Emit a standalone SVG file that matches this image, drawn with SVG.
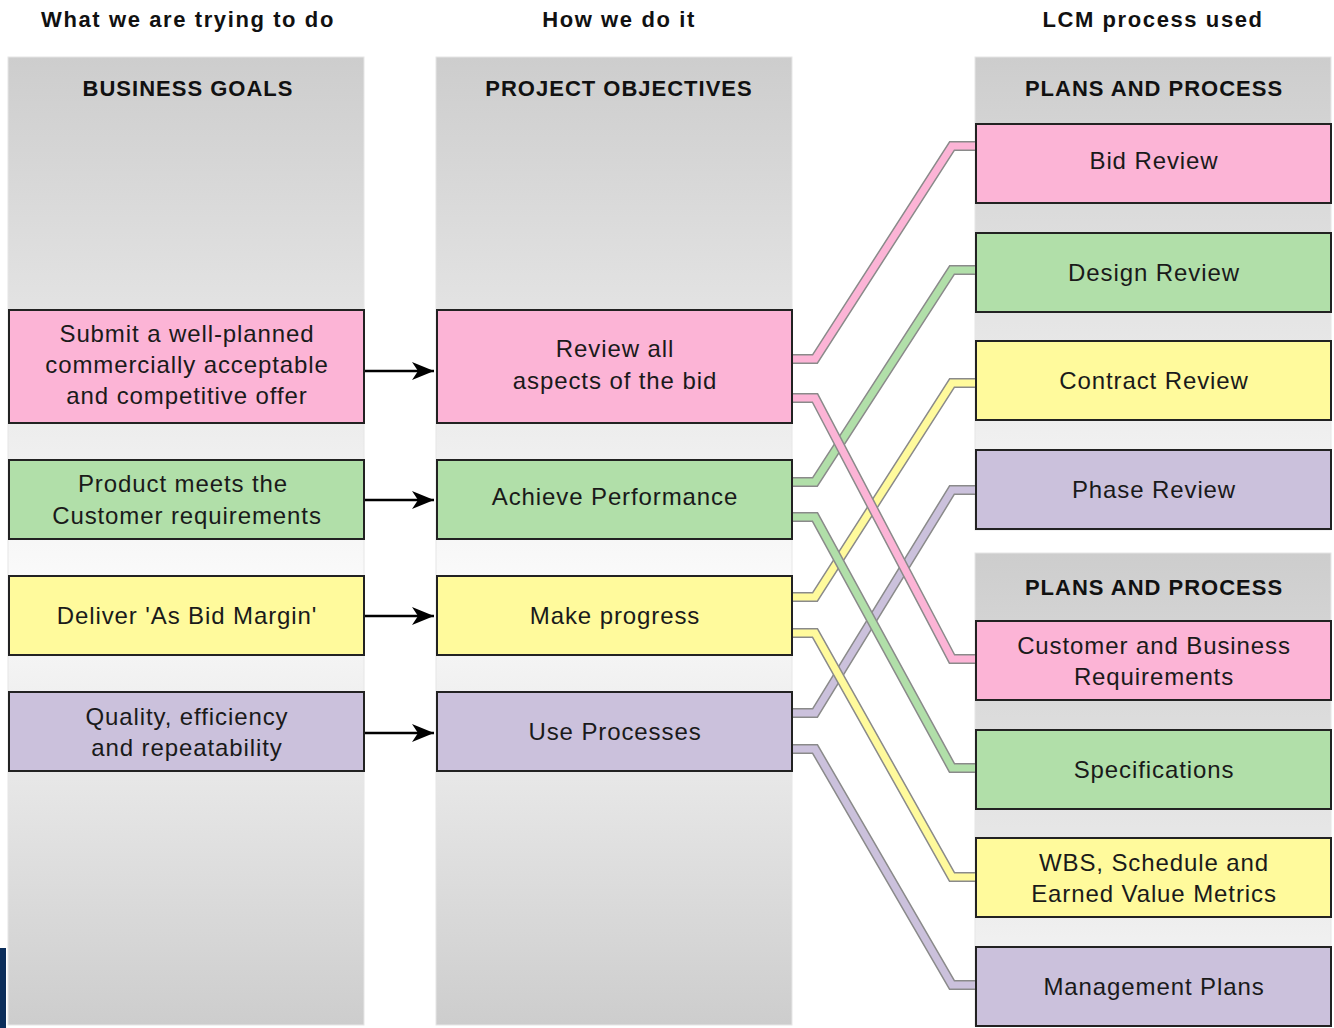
<svg xmlns="http://www.w3.org/2000/svg" width="1334" height="1028" viewBox="0 0 1334 1028">
  <defs>
    <linearGradient id="colFade" x1="0" y1="0" x2="0" y2="1">
      <stop offset="0" stop-color="#cdcdcd"/>
      <stop offset="0.55" stop-color="#fbfbfb"/>
      <stop offset="1" stop-color="#cdcdcd"/>
    </linearGradient>
    <linearGradient id="sideFade" x1="0" y1="0" x2="0" y2="1">
      <stop offset="0" stop-color="#cdcdcd"/>
      <stop offset="1" stop-color="#f8f8f8"/>
    </linearGradient>
    <marker id="arrowHead" viewBox="0 0 22 18" refX="22" refY="9" markerWidth="22" markerHeight="18" markerUnits="userSpaceOnUse" orient="auto">
      <path d="M0,0 L22,9 L0,18 L6,9 Z" fill="#000"/>
    </marker>
    <style>
      .col { stroke: #e6e6e6; stroke-width: 1; }
      .box { stroke: #222; stroke-width: 2; }
      .pink { fill: #fcb4d6; }
      .green { fill: #b1dfa9; }
      .yellow { fill: #fffa9c; }
      .purple { fill: #cbc1dc; }
      .top { font-family: "Liberation Sans", Arial, sans-serif; font-weight: bold; font-size: 22px; letter-spacing: 1.6px; fill: #111; text-anchor: middle; }
      .head { font-family: "Liberation Sans", Arial, sans-serif; font-weight: bold; font-size: 22px; letter-spacing: 1px; fill: #111; text-anchor: middle; }
      .lbl { font-family: "Liberation Sans", Arial, sans-serif; font-size: 24px; letter-spacing: 0.9px; fill: #1a1a1a; text-anchor: middle; }
      .edge .rim { stroke: #8a8a8a; stroke-width: 10; fill: none; stroke-linejoin: miter; }
      .edge .core { stroke-width: 7; fill: none; stroke-linejoin: miter; }
      .arrow { stroke: #000; stroke-width: 2.5; fill: none; marker-end: url(#arrowHead); }
    </style>
  </defs>

  <rect width="1334" height="1028" fill="#fff"/>

  <!-- column backgrounds -->
  <rect class="col" x="8" y="57" width="356" height="968" fill="url(#colFade)"/>
  <rect class="col" x="436" y="57" width="356" height="968" fill="url(#colFade)"/>
  <rect class="col" x="975" y="57" width="356" height="473" fill="url(#sideFade)"/>
  <rect class="col" x="975" y="553" width="356" height="473" fill="url(#sideFade)"/>

  <!-- small edge strip at lower left -->
  <rect x="0" y="948" width="6" height="80" fill="#0b2d5a"/>

  <!-- column captions -->
  <text class="top" x="188" y="27">What we are trying to do</text>
  <text class="top" x="619" y="27">How we do it</text>
  <text class="top" x="1153" y="27">LCM process used</text>
  <text class="head" x="188" y="96">BUSINESS GOALS</text>
  <text class="head" x="619" y="96">PROJECT OBJECTIVES</text>
  <text class="head" x="1154" y="96">PLANS AND PROCESS</text>
  <text class="head" x="1154" y="595">PLANS AND PROCESS</text>

  <!-- connectors -->
  <g id="connectors">
    <g class="edge">
      <path class="rim" d="M792,713 H815 L952,490 H976"/>
      <path class="core" stroke="#cbc1dc" d="M792,713 H815 L952,490 H976"/>
    </g>
    <g class="edge">
      <path class="rim" d="M792,749 H815 L952,985 H976"/>
      <path class="core" stroke="#cbc1dc" d="M792,749 H815 L952,985 H976"/>
    </g>
    <g class="edge">
      <path class="rim" d="M792,597 H815 L952,383 H976"/>
      <path class="core" stroke="#fffa9c" d="M792,597 H815 L952,383 H976"/>
    </g>
    <g class="edge">
      <path class="rim" d="M792,633 H815 L952,877 H976"/>
      <path class="core" stroke="#fffa9c" d="M792,633 H815 L952,877 H976"/>
    </g>
    <g class="edge">
      <path class="rim" d="M792,482 H815 L952,270 H976"/>
      <path class="core" stroke="#b1dfa9" d="M792,482 H815 L952,270 H976"/>
    </g>
    <g class="edge">
      <path class="rim" d="M792,517 H815 L952,768 H976"/>
      <path class="core" stroke="#b1dfa9" d="M792,517 H815 L952,768 H976"/>
    </g>
    <g class="edge">
      <path class="rim" d="M792,359 H815 L952,146 H976"/>
      <path class="core" stroke="#fcb4d6" d="M792,359 H815 L952,146 H976"/>
    </g>
    <g class="edge">
      <path class="rim" d="M792,398 H815 L952,659 H976"/>
      <path class="core" stroke="#fcb4d6" d="M792,398 H815 L952,659 H976"/>
    </g>

    <path class="arrow" d="M364,371 H434"/>
    <path class="arrow" d="M364,500 H434"/>
    <path class="arrow" d="M364,616 H434"/>
    <path class="arrow" d="M364,733 H434"/>
  </g>

  <!-- business goals -->
  <g id="goal-offer">
    <rect class="box pink" x="9" y="310" width="355" height="113"/>
    <text class="lbl" x="187" y="342">Submit a well-planned</text>
    <text class="lbl" x="187" y="373">commercially acceptable</text>
    <text class="lbl" x="187" y="404">and competitive offer</text>
  </g>
  <g id="goal-product">
    <rect class="box green" x="9" y="460" width="355" height="79"/>
    <text class="lbl" x="183" y="492">Product meets the</text>
    <text class="lbl" x="187" y="524">Customer requirements</text>
  </g>
  <g id="goal-margin">
    <rect class="box yellow" x="9" y="576" width="355" height="79"/>
    <text class="lbl" x="187" y="624">Deliver 'As Bid Margin'</text>
  </g>
  <g id="goal-quality">
    <rect class="box purple" x="9" y="692" width="355" height="79"/>
    <text class="lbl" x="187" y="725">Quality, efficiency</text>
    <text class="lbl" x="187" y="756">and repeatability</text>
  </g>

  <!-- project objectives -->
  <g id="obj-review">
    <rect class="box pink" x="437" y="310" width="355" height="113"/>
    <text class="lbl" x="615" y="357">Review all</text>
    <text class="lbl" x="615" y="389">aspects of the bid</text>
  </g>
  <g id="obj-performance">
    <rect class="box green" x="437" y="460" width="355" height="79"/>
    <text class="lbl" x="615" y="505">Achieve Performance</text>
  </g>
  <g id="obj-progress">
    <rect class="box yellow" x="437" y="576" width="355" height="79"/>
    <text class="lbl" x="615" y="624">Make progress</text>
  </g>
  <g id="obj-processes">
    <rect class="box purple" x="437" y="692" width="355" height="79"/>
    <text class="lbl" x="615" y="740">Use Processes</text>
  </g>

  <!-- plans and process -->
  <g id="bid-review">
    <rect class="box pink" x="976" y="124" width="355" height="79"/>
    <text class="lbl" x="1154" y="169">Bid Review</text>
  </g>
  <g id="design-review">
    <rect class="box green" x="976" y="233" width="355" height="79"/>
    <text class="lbl" x="1154" y="281">Design Review</text>
  </g>
  <g id="contract-review">
    <rect class="box yellow" x="976" y="341" width="355" height="79"/>
    <text class="lbl" x="1154" y="389">Contract Review</text>
  </g>
  <g id="phase-review">
    <rect class="box purple" x="976" y="450" width="355" height="79"/>
    <text class="lbl" x="1154" y="498">Phase Review</text>
  </g>
  <g id="requirements">
    <rect class="box pink" x="976" y="621" width="355" height="79"/>
    <text class="lbl" x="1154" y="654">Customer and Business</text>
    <text class="lbl" x="1154" y="685">Requirements</text>
  </g>
  <g id="specifications">
    <rect class="box green" x="976" y="730" width="355" height="79"/>
    <text class="lbl" x="1154" y="778">Specifications</text>
  </g>
  <g id="wbs">
    <rect class="box yellow" x="976" y="838" width="355" height="79"/>
    <text class="lbl" x="1154" y="871">WBS, Schedule and</text>
    <text class="lbl" x="1154" y="902">Earned Value Metrics</text>
  </g>
  <g id="management-plans">
    <rect class="box purple" x="976" y="947" width="355" height="79"/>
    <text class="lbl" x="1154" y="995">Management Plans</text>
  </g>
</svg>
